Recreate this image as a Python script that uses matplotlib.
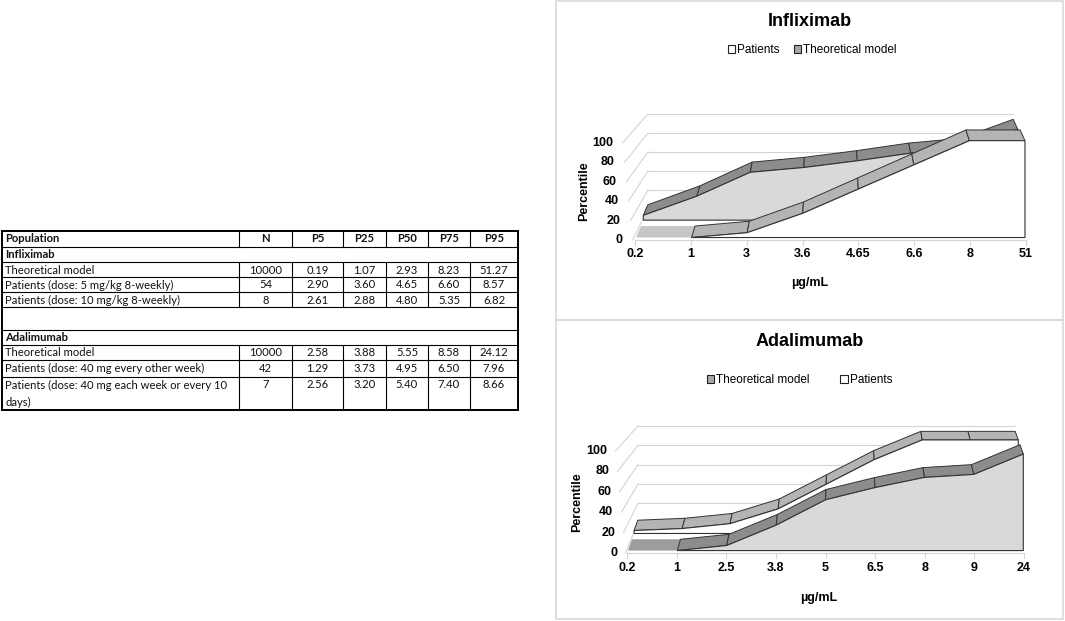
import numpy as np
import matplotlib
matplotlib.use("Agg")
import matplotlib.pyplot as plt
from matplotlib.patches import Polygon, Patch

plt.rcParams['font.family'] = ['Liberation Sans', 'DejaVu Sans']

# ---- table data ----
col_labels = ['Population', 'N', 'P5', 'P25', 'P50', 'P75', 'P95']
ifx_rows = ['Theoretical model', 'Patients (dose: 5 mg/kg 8-weekly)', 'Patients (dose: 10 mg/kg 8-weekly)']
ifx_n = ['10000', '54', '8']
ifx_pct = [['0.19', '1.07', '2.93', '8.23', '51.27'],
           ['2.90', '3.60', '4.65', '6.60', '8.57'],
           ['2.61', '2.88', '4.80', '5.35', '6.82']]
ada_rows = ['Theoretical model', 'Patients (dose: 40 mg every other week)',
            'Patients (dose: 40 mg each week or every 10\ndays)']
ada_n = ['10000', '42', '7']
ada_pct = [['2.58', '3.88', '5.55', '8.58', '24.12'],
           ['1.29', '3.73', '4.95', '6.50', '7.96'],
           ['2.56', '3.20', '5.40', '7.40', '8.66']]

# ---- chart data (percentile vs concentration category) ----
ifx_cats = ['0.2', '1', '3', '3.6', '4.65', '6.6', '8', '51']
ifx_patients = [0, 0, 5, 25, 50, 75, 100, 100]
ifx_model = [5, 25, 50, 55, 62, 70, 75, 95]

ada_cats = ['0.2', '1', '2.5', '3.8', '5', '6.5', '8', '9', '24']
ada_model = [0, 0, 5, 25, 50, 62, 72, 75, 95]
ada_patients = [3, 5, 10, 25, 50, 75, 95, 95, 95]

W, H = 1065, 621
fig = plt.figure(figsize=(W / 100, H / 100), dpi=100)

# ---------------- table ----------------
tax = fig.add_axes([0, 0, 1, 1])
tax.set_xlim(0, W)
tax.set_ylim(H, 0)
tax.axis('off')

cx = [2, 239, 292, 343, 386, 428, 470, 518]
ry = [231, 247, 262, 277, 292, 307, 330, 345, 360, 377, 410]
kinds = ['head', 'sec', 'row', 'row', 'row', 'blank', 'sec', 'row', 'row', 'row']
tfont = dict(family=['Lato', 'DejaVu Sans'], fontsize=8.1, color='#111111')

for y in ry:
    lw = 1.4 if y in (ry[0], ry[-1]) else 0.8
    tax.plot([cx[0], cx[-1]], [y, y], color='black', lw=lw)
tax.plot([cx[0], cx[0]], [ry[0], ry[-1]], color='black', lw=1.4)
tax.plot([cx[-1], cx[-1]], [ry[0], ry[-1]], color='black', lw=1.4)
for i, k in enumerate(kinds):
    if k in ('head', 'row'):
        for x in cx[1:-1]:
            tax.plot([x, x], [ry[i], ry[i + 1]], color='black', lw=0.8)

def cell_centers():
    return [(cx[j] + cx[j + 1]) / 2 for j in range(1, len(cx) - 1)]

ymid = (ry[0] + ry[1]) / 2
tax.text(cx[0] + 3, ymid, col_labels[0], ha='left', va='center', fontweight='bold', **tfont)
for xc, lab in zip(cell_centers(), col_labels[1:]):
    tax.text(xc, ymid, lab, ha='center', va='center', fontweight='bold', **tfont)

def table_block(r0, title, names, ns, pcts):
    tax.text(cx[0] + 3, (ry[r0] + ry[r0 + 1]) / 2, title, ha='left', va='center',
             fontweight='bold', **tfont)
    for k, (nm, n, pc) in enumerate(zip(names, ns, pcts)):
        top = ry[r0 + 1 + k]
        for m, line in enumerate(nm.split('\n')):
            tax.text(cx[0] + 3, top + 8 + m * 17, line, ha='left', va='center', **tfont)
        for xc, val in zip(cell_centers(), [n] + pc):
            tax.text(xc, top + 8, val, ha='center', va='center', **tfont)

table_block(1, 'Infliximab', ifx_rows, ifx_n, ifx_pct)
table_block(6, 'Adalimumab', ada_rows, ada_n, ada_pct)

# ---------------- 3D-look area charts ----------------
PAT_FACE, PAT_TOP, PAT_FLAT = 'white', '#b4b4b4', '#c6c6c6'
MOD_FACE, MOD_TOP, MOD_FLAT = '#d9d9d9', '#8c8c8c', '#9c9c9c'
EDGE = '#333333'
GRID = '#d4d4d4'


def proj(x, v, d, geo):
    sx, ox, sy, oy = geo
    return x * (1 - sx * d) + ox * d, v * (1 - sy * d) + oy * d


def draw_slab(ax, vals, d0, d1, face, top, flat, geo):
    vals = np.asarray(vals, float)
    xs = np.arange(len(vals))
    for i in range(len(vals) - 1):
        pts = [proj(xs[i], vals[i], d0, geo), proj(xs[i + 1], vals[i + 1], d0, geo),
               proj(xs[i + 1], vals[i + 1], d1, geo), proj(xs[i], vals[i], d1, geo)]
        if vals[i] == 0 and vals[i + 1] == 0:
            ax.add_patch(Polygon(pts, closed=True, fc=flat, ec='none'))
        else:
            ax.add_patch(Polygon(pts, closed=True, fc=top, ec=EDGE, lw=0.7))
    s = 0
    while s + 1 < len(vals) and vals[s + 1] == 0:
        s += 1
    fx = list(xs[s:]) + [xs[-1], xs[s]]
    fv = list(vals[s:]) + [0, 0]
    pts = [proj(a, b, d0, geo) for a, b in zip(fx, fv)]
    ax.add_patch(Polygon(pts, closed=True, fc=face, ec=EDGE, lw=0.8))


def draw_chart(box, org, pxc, pxv, geo, cats, back, front, styles, title, legend, lab_x, leg_anchor, colsp):
    # box: (left, top, right, bottom) in px; org: px position of cat 0 / v 0 on front plane
    l, t, r, b = box
    ax = fig.add_axes([l / W, 1 - b / H, (r - l) / W, (b - t) / H])
    ax.set_xlim((l - org[0]) / pxc, (r - org[0]) / pxc)
    ax.set_ylim((org[1] - b) / pxv, (org[1] - t) / pxv)
    ax.axis('off')
    ax.add_patch(plt.Rectangle((0, 0), 1, 1, transform=ax.transAxes, fill=False,
                               ec='#d9d9d9', lw=1.2, clip_on=False))
    n = len(cats)
    xs = np.arange(n)
    ticks = np.arange(0, 101, 20)
    # back wall grid + diagonals
    for v in ticks:
        x0, y0 = proj(0, v, 1, geo)
        x1, y1 = proj(n - 1, v, 1, geo)
        ax.plot([x0, x1], [y0, y1], color=GRID, lw=0.8, zorder=1)
        lx = lab_x[0] + lab_x[1] * v
        ax.plot([lx + 0.17, x0], [v, y0], color=GRID, lw=0.8, zorder=1)
        ax.text(lx, v, str(v), ha='right', va='center', fontsize=9, fontweight='bold')
    # floor front edge with ticks
    ax.plot([0, n - 1], [0, 0], color=GRID, lw=0.8, zorder=1)
    for x in xs:
        ax.plot([x, x], [0, -5], color=GRID, lw=0.8, zorder=1)
    draw_slab(ax, back, 0.64, 0.98, *styles[0], geo)
    draw_slab(ax, front, 0.08, 0.45, *styles[1], geo)
    for x, c in zip(xs, cats):
        ax.text(x, -14.5, c, ha='center', va='center', fontsize=9, fontweight='bold')
    ax.text(lab_x[2], -44, 'µg/mL', ha='center', va='center', fontsize=9, fontweight='bold')
    ax.text(lab_x[3], 50, 'Percentile', ha='center', va='center', rotation=90,
            fontsize=9, fontweight='bold')
    ax.text(0.5, 1 - 21 / (b - t), title, transform=ax.transAxes, ha='center', va='center',
            fontsize=13, fontweight='bold')
    handles = [Patch(fc=fc, ec='#222222', lw=0.8, label=lab) for lab, fc in legend]
    ax.legend(handles=handles, loc='center', bbox_to_anchor=leg_anchor, ncol=2, frameon=False,
              fontsize=8.5, handlelength=0.65, handleheight=0.65, handletextpad=0.15,
              columnspacing=colsp, borderaxespad=0)
    return ax


pat_style = (PAT_FACE, PAT_TOP, PAT_FLAT)
mod_style = (MOD_FACE, MOD_TOP, MOD_FLAT)

# Infliximab: back = theoretical model, front = patients
draw_chart((556, 1, 1063, 320), (635, 240), 55.86, 0.97, (0.0666, 0.233, 0.021, 32.0),
           ifx_cats, ifx_model, ifx_patients, (mod_style, pat_style), 'Infliximab',
           [('Patients', 'white'), ('Theoretical model', '#a8a8a8')],
           (-0.215, -0.0018, 3.13, -0.91), (0.505, 0.847), 1.2)

# Adalimumab: back = patients, front = theoretical model
draw_chart((556, 320, 1063, 619), (627, 553), 49.63, 1.02, (0.0505, 0.222, 0.054, 29.9),
           ada_cats, ada_patients, ada_model, (pat_style, mod_style), 'Adalimumab',
           [('Theoretical model', '#a8a8a8'), ('Patients', 'white')],
           (-0.201, -0.002, 3.87, -1.01), (0.48, 0.80), 2.6)

fig.savefig('out.png', dpi=100)
